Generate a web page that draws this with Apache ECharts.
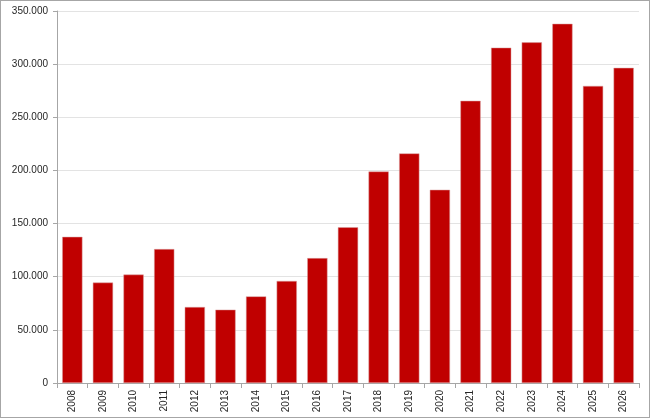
<!DOCTYPE html>
<html>
<head>
<meta charset="utf-8">
<script src="https://cdn.jsdelivr.net/npm/echarts@6/dist/echarts.min.js"></script>
<style>
  html, body { margin: 0; padding: 0; background: #fff; }
  #chart { width: 648px; height: 416px; border: 1px solid #a6a6a6; }
</style>
</head>
<body>
<div id="chart"></div>
<script>
// jaren en aantallen
const years = ['2008', '2009', '2010', '2011', '2012', '2013', '2014', '2015', '2016', '2017',
  '2018', '2019', '2020', '2021', '2022', '2023', '2024', '2025', '2026'];
const counts = [137500, 94500, 102000, 126000, 71500, 69000, 81500, 96000, 117500, 146500,
  199000, 216000, 181800, 265500, 315500, 320500, 338000, 279500, 296500];

// 350000 -> 350.000
const fmt = (v) => String(v).replace(/\B(?=(\d{3})+(?!\d))/g, '.');

const chart = echarts.init(document.getElementById('chart'));

chart.setOption({
  animation: false,
  grid: { left: 56, right: 10, top: 10, bottom: 34 },
  xAxis: {
    type: 'category',
    data: years,
    axisLine: { lineStyle: { color: '#a6a6a6' } },
    axisTick: { show: true, length: 5, lineStyle: { color: '#a6a6a6' } },
    axisLabel: {
      rotate: 90,
      margin: 7,
      color: '#262626',
      fontFamily: 'Liberation Sans',
      fontSize: 10,
    },
  },
  yAxis: {
    type: 'value',
    min: 0,
    max: 350000,
    interval: 50000,
    axisLine: { show: true, lineStyle: { color: '#a6a6a6' } },
    axisTick: { show: true, length: 4, lineStyle: { color: '#a6a6a6' } },
    splitLine: { lineStyle: { color: '#e3e3e3' } },
    axisLabel: {
      margin: 9,
      color: '#262626',
      fontFamily: 'Liberation Sans',
      fontSize: 10,
      formatter: fmt,
    },
  },
  series: [
    {
      type: 'bar',
      data: counts,
      barCategoryGap: '34%',
      itemStyle: { color: '#c00000', borderColor: '#d9a0a0', borderWidth: 0.5 },
    },
  ],
});
</script>
</body>
</html>
